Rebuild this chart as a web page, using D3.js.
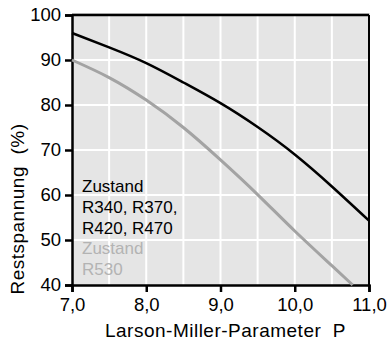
<!DOCTYPE html>
<html>
<head>
<meta charset="utf-8">
<script src="https://cdn.jsdelivr.net/npm/d3@7"></script>
<style>
  body { margin: 0; background: #fff; }
  text { font-family: "Liberation Sans", Arial, sans-serif; }
</style>
</head>
<body>
<div id="chart"></div>
<script>
// Restspannung vs. Larson-Miller-Parameter
const pBlack = [7.0, 7.5, 8.0, 8.5, 9.0, 9.5, 10.0, 10.5, 11.0];
const restBlack = [96, 92.8, 89.3, 85.0, 80.4, 75.1, 69.0, 61.9, 54.3];
const pGray = [7.0, 7.5, 8.0, 8.5, 9.0, 9.5, 10.0, 10.5, 10.78];
const restGray = [90, 86.1, 81.1, 75.0, 67.8, 60.1, 52.0, 44.3, 40.0];
const xTicks = [7, 8, 9, 10, 11];
const yTicks = [40, 50, 60, 70, 80, 90, 100];
const legendBlack = ['Zustand', 'R340, R370,', 'R420, R470'];
const legendGray = ['Zustand', 'R530'];

const width = 390, height = 342;
const margin = {top: 15, right: 21, bottom: 57, left: 72};
const innerW = width - margin.left - margin.right,
    innerH = height - margin.top - margin.bottom;

const svg = d3.select('#chart').append('svg')
    .attr('width', width)
    .attr('height', height);

const g = svg.append('g')
    .attr('transform', `translate(${margin.left},${margin.top})`);

const x = d3.scaleLinear().domain([7, 11]).range([0, innerW]);
const y = d3.scaleLinear().domain([40, 100]).range([innerH, 0]);

g.append('rect')
    .attr('width', innerW)
    .attr('height', innerH)
    .style('fill', '#e5e5e5');

// grid
g.append('g')
    .selectAll('line')
    .data(d3.range(7.5, 11, 0.5))
    .join('line')
    .attr('x1', d => x(d)).attr('x2', d => x(d))
    .attr('y1', 0).attr('y2', innerH)
    .style('stroke', '#fff').style('stroke-width', 2);

g.append('g')
    .selectAll('line')
    .data(yTicks.slice(1, -1))
    .join('line')
    .attr('x1', 0).attr('x2', innerW)
    .attr('y1', d => y(d)).attr('y2', d => y(d))
    .style('stroke', '#fff').style('stroke-width', 2);

// frame
g.append('line')
    .attr('x1', 0).attr('x2', innerW + 1).attr('y1', -1).attr('y2', -1)
    .style('stroke', '#bbb').style('stroke-width', 1);
g.append('line')
    .attr('x1', 0).attr('x2', innerW).attr('y1', 0).attr('y2', 0)
    .style('stroke', '#000').style('stroke-width', 2.5);
g.append('line')
    .attr('x1', innerW).attr('x2', innerW).attr('y1', 0).attr('y2', innerH)
    .style('stroke', '#000').style('stroke-width', 2);

// axes
const fmt = d => d3.format('.1f')(d).replace('.', ',');

const xAxis = g.append('g')
    .attr('transform', `translate(0,${innerH})`)
    .call(d3.axisBottom(x).tickValues(xTicks).tickFormat(fmt).tickSize(7).tickPadding(6));
const yAxis = g.append('g')
    .call(d3.axisLeft(y).tickValues(yTicks).tickSize(7).tickPadding(4));

[xAxis, yAxis].forEach(a => {
    a.select('.domain').style('stroke', '#000').style('stroke-width', 2.5);
    a.selectAll('.tick line').style('stroke', '#000').style('stroke-width', 2.5);
    a.selectAll('.tick text')
        .style('font-family', '"Liberation Sans", Arial, sans-serif')
        .style('font-size', '18.5px')
        .style('fill', '#000');
});

// curves
const line = d3.line()
    .x(d => x(d[0]))
    .y(d => y(d[1]))
    .curve(d3.curveNatural);

g.append('path')
    .datum(d3.zip(pGray, restGray))
    .attr('d', line)
    .style('fill', 'none')
    .style('stroke', '#a3a3a3')
    .style('stroke-width', 3);

g.append('path')
    .datum(d3.zip(pBlack, restBlack))
    .attr('d', line)
    .style('fill', 'none')
    .style('stroke', '#000')
    .style('stroke-width', 2.5);

// legend text
const legend = g.append('g').attr('transform', 'translate(10,177)');
legend.selectAll('text.black')
    .data(legendBlack)
    .join('text')
    .attr('class', 'black')
    .attr('y', (d, i) => i * 21)
    .text(d => d)
    .style('font-size', '17px')
    .style('fill', '#000');
legend.selectAll('text.gray')
    .data(legendGray)
    .join('text')
    .attr('class', 'gray')
    .attr('y', (d, i) => (i + 3) * 21 - 1)
    .text(d => d)
    .style('font-size', '17px')
    .style('fill', '#b3b3b3');

// axis titles
svg.append('text')
    .attr('x', margin.left + innerW / 2 + 5)
    .attr('y', 337)
    .attr('text-anchor', 'middle')
    .style('font-size', '19px')
    .style('letter-spacing', '0.5px')
    .style('white-space', 'pre')
    .text('Larson-Miller-Parameter  P');

svg.append('text')
    .attr('transform', 'translate(24,209) rotate(-90)')
    .attr('text-anchor', 'middle')
    .style('font-size', '19px')
    .style('letter-spacing', '0.5px')
    .style('white-space', 'pre')
    .text('Restspannung  (%)');
</script>
</body>
</html>
